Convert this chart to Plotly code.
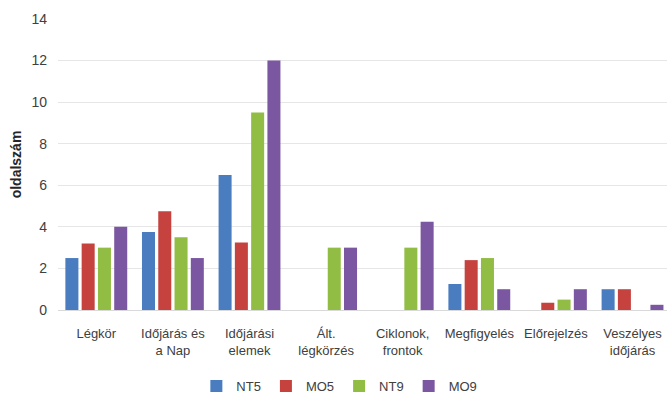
import plotly.graph_objects as go

# Topics (x categories) and page counts per textbook series
categories = [
    "Légkör",
    "Időjárás és<br>a Nap",
    "Időjárási<br>elemek",
    "Ált.<br>légkörzés",
    "Ciklonok,<br>frontok",
    "Megfigyelés",
    "Előrejelzés",
    "Veszélyes<br>időjárás",
]

nt5 = [2.5, 3.75, 6.5, 0, 0, 1.25, 0, 1.0]
mo5 = [3.2, 4.75, 3.25, 0, 0, 2.4, 0.35, 1.0]
nt9 = [3.0, 3.5, 9.5, 3.0, 3.0, 2.5, 0.5, 0]
mo9 = [4.0, 2.5, 12.0, 3.0, 4.25, 1.0, 1.0, 0.25]

series = [
    ("NT5", nt5, "#4a7dc0"),
    ("MO5", mo5, "#c6423f"),
    ("NT9", nt9, "#92bd45"),
    ("MO9", mo9, "#7c57a1"),
]

y_ticks = [0, 2, 4, 6, 8, 10, 12, 14]

FONT = "Liberation Sans, Arial, sans-serif"
TEXT = "#404040"

fig = go.Figure()
for name, vals, color in series:
    fig.add_trace(go.Bar(
        name=name,
        x=categories,
        y=vals,
        marker=dict(color=color, line=dict(width=0)),
    ))

fig.update_layout(
    width=667,
    height=401,
    margin=dict(l=58, r=0, t=19, b=90),
    paper_bgcolor="white",
    plot_bgcolor="white",
    barmode="group",
    bargap=0.15,
    bargroupgap=0.2,
    font=dict(family=FONT, size=13, color=TEXT),
    showlegend=True,
    legend=dict(
        orientation="h",
        x=0.462,
        xanchor="center",
        y=-0.262,
        yanchor="middle",
        font=dict(family=FONT, size=13, color=TEXT),
        itemwidth=30,
        traceorder="normal",
    ),
    xaxis=dict(
        type="category",
        range=[-0.5, 7.45],
        showgrid=False,
        showline=False,
        ticks="",
        ticklabelstandoff=14,
        tickfont=dict(family=FONT, size=13, color=TEXT),
        tickangle=0,
    ),
    yaxis=dict(
        range=[0, 14],
        tickvals=y_ticks,
        showgrid=True,
        gridcolor="#e6e6e6",
        gridwidth=1,
        zeroline=True,
        zerolinecolor="#d9d9d9",
        zerolinewidth=1,
        showline=False,
        ticks="",
        ticklabelstandoff=10,
        tickfont=dict(family=FONT, size=14, color=TEXT),
        title=dict(
            text="<b>oldalszám</b>",
            font=dict(family=FONT, size=14, color="#262626"),
            standoff=6,
        ),
    ),
)

fig.write_html("out.html")
